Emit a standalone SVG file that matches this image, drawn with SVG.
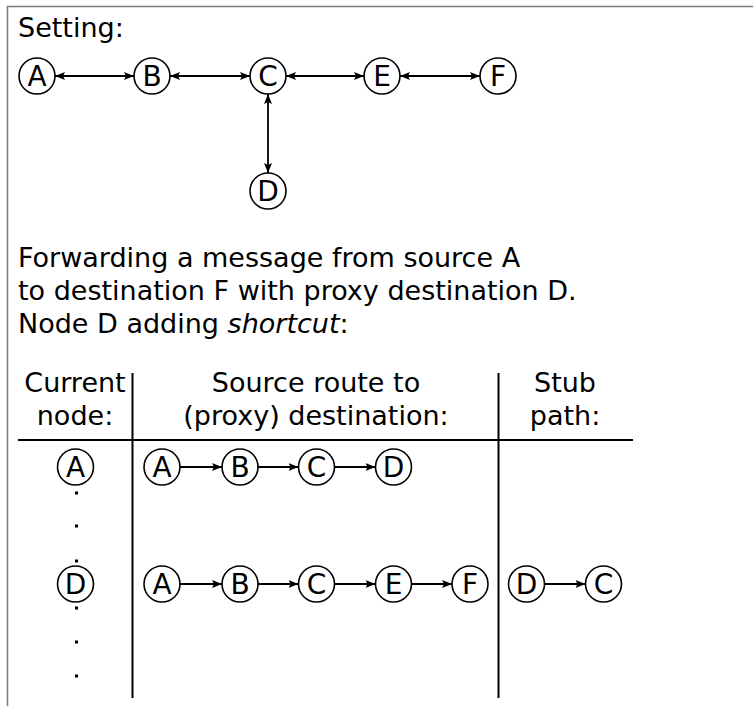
<svg xmlns="http://www.w3.org/2000/svg" width="753" height="706" viewBox="0 0 753 706">
<defs>
<marker id="ah" viewBox="0 0 10 8" refX="10" refY="4" markerWidth="10" markerHeight="8" markerUnits="userSpaceOnUse" orient="auto-start-reverse">
<path d="M0,0 L10,4 L0,8 L2,4 Z" fill="#000"/>
</marker>
</defs>
<style>
.t{font-family:"DejaVu Sans","Liberation Sans",sans-serif;font-size:27px;fill:#000}
.n circle{fill:#fff;stroke:#000;stroke-width:1.6}
.n text{font-family:"DejaVu Sans","Liberation Sans",sans-serif;font-size:28px;fill:#000;text-anchor:middle}
.e{stroke:#000;stroke-width:1.8;fill:none}
.bi{marker-start:url(#ah);marker-end:url(#ah)}
.uni{marker-end:url(#ah)}
.tl{stroke:#000;stroke-width:2;fill:none}
.dot{fill:#000}
</style>
<rect width="753" height="706" fill="#fff"/>
<path d="M7.5,706 V6.5 H753" stroke="#7a7a7a" stroke-width="1.5" fill="none"/>

<text class="t" x="18" y="37">Setting:</text>
<text class="t" x="18" y="267">Forwarding a message from source A</text>
<text class="t" x="18" y="300">to destination F with proxy destination D.</text>
<text class="t" x="18" y="333">Node D adding <tspan font-style="italic">shortcut</tspan>:</text>

<g id="header" class="t" text-anchor="middle">
<text x="75" y="392">Current</text>
<text x="75" y="425">node:</text>
<text x="316" y="392">Source route to</text>
<text x="316" y="425">(proxy) destination:</text>
<text x="565" y="392">Stub</text>
<text x="565" y="425">path:</text>
</g>

<g id="table-lines">
<path class="tl" d="M18,440 H633"/>
<path class="tl" d="M132.5,373 V698"/>
<path class="tl" d="M498.5,373 V698"/>
</g>

<g id="connectors">
<path class="e bi" d="M55,76 H134"/>
<path class="e bi" d="M170,76 H250"/>
<path class="e bi" d="M286,76 H364"/>
<path class="e bi" d="M400,76 H480"/>
<path class="e bi" d="M268,94 V173"/>
<path class="e uni" d="M180,467 H222"/>
<path class="e uni" d="M258,467 H298.5"/>
<path class="e uni" d="M334.5,467 H375.5"/>
<path class="e uni" d="M180,584 H222"/>
<path class="e uni" d="M258,584 H298.5"/>
<path class="e uni" d="M334.5,584 H375.5"/>
<path class="e uni" d="M411.5,584 H452"/>
<path class="e uni" d="M544.5,584 H585.5"/>
</g>

<g id="setting-A" class="n"><circle cx="37" cy="76" r="18"/><text x="37" y="86">A</text></g>
<g id="setting-B" class="n"><circle cx="152" cy="76" r="18"/><text x="152" y="86">B</text></g>
<g id="setting-C" class="n"><circle cx="268" cy="76" r="18"/><text x="268" y="86">C</text></g>
<g id="setting-E" class="n"><circle cx="382" cy="76" r="18"/><text x="382" y="86">E</text></g>
<g id="setting-F" class="n"><circle cx="498" cy="76" r="18"/><text x="498" y="86">F</text></g>
<g id="setting-D" class="n"><circle cx="268" cy="191" r="18"/><text x="268" y="201">D</text></g>

<g id="cur-A" class="n"><circle cx="75.5" cy="467" r="18"/><text x="75.5" y="477">A</text></g>
<g id="r1-A" class="n"><circle cx="162" cy="467" r="18"/><text x="162" y="477">A</text></g>
<g id="r1-B" class="n"><circle cx="240" cy="467" r="18"/><text x="240" y="477">B</text></g>
<g id="r1-C" class="n"><circle cx="316.5" cy="467" r="18"/><text x="316.5" y="477">C</text></g>
<g id="r1-D" class="n"><circle cx="393.5" cy="467" r="18"/><text x="393.5" y="477">D</text></g>

<g id="cur-D" class="n"><circle cx="75.5" cy="584" r="18"/><text x="75.5" y="594">D</text></g>
<g id="r2-A" class="n"><circle cx="162" cy="584" r="18"/><text x="162" y="594">A</text></g>
<g id="r2-B" class="n"><circle cx="240" cy="584" r="18"/><text x="240" y="594">B</text></g>
<g id="r2-C" class="n"><circle cx="316.5" cy="584" r="18"/><text x="316.5" y="594">C</text></g>
<g id="r2-E" class="n"><circle cx="393.5" cy="584" r="18"/><text x="393.5" y="594">E</text></g>
<g id="r2-F" class="n"><circle cx="470" cy="584" r="18"/><text x="470" y="594">F</text></g>
<g id="stub-D" class="n"><circle cx="526.5" cy="584" r="18"/><text x="526.5" y="594">D</text></g>
<g id="stub-C" class="n"><circle cx="603.5" cy="584" r="18"/><text x="603.5" y="594">C</text></g>

<g id="dots" class="dot">
<rect x="75" y="491.5" width="3" height="3"/>
<rect x="75" y="524.5" width="3" height="3"/>
<rect x="75" y="559.5" width="3" height="3"/>
<rect x="75" y="606.5" width="3" height="3"/>
<rect x="75" y="640.5" width="3" height="3"/>
<rect x="75" y="674.5" width="3" height="3"/>
</g>
</svg>
